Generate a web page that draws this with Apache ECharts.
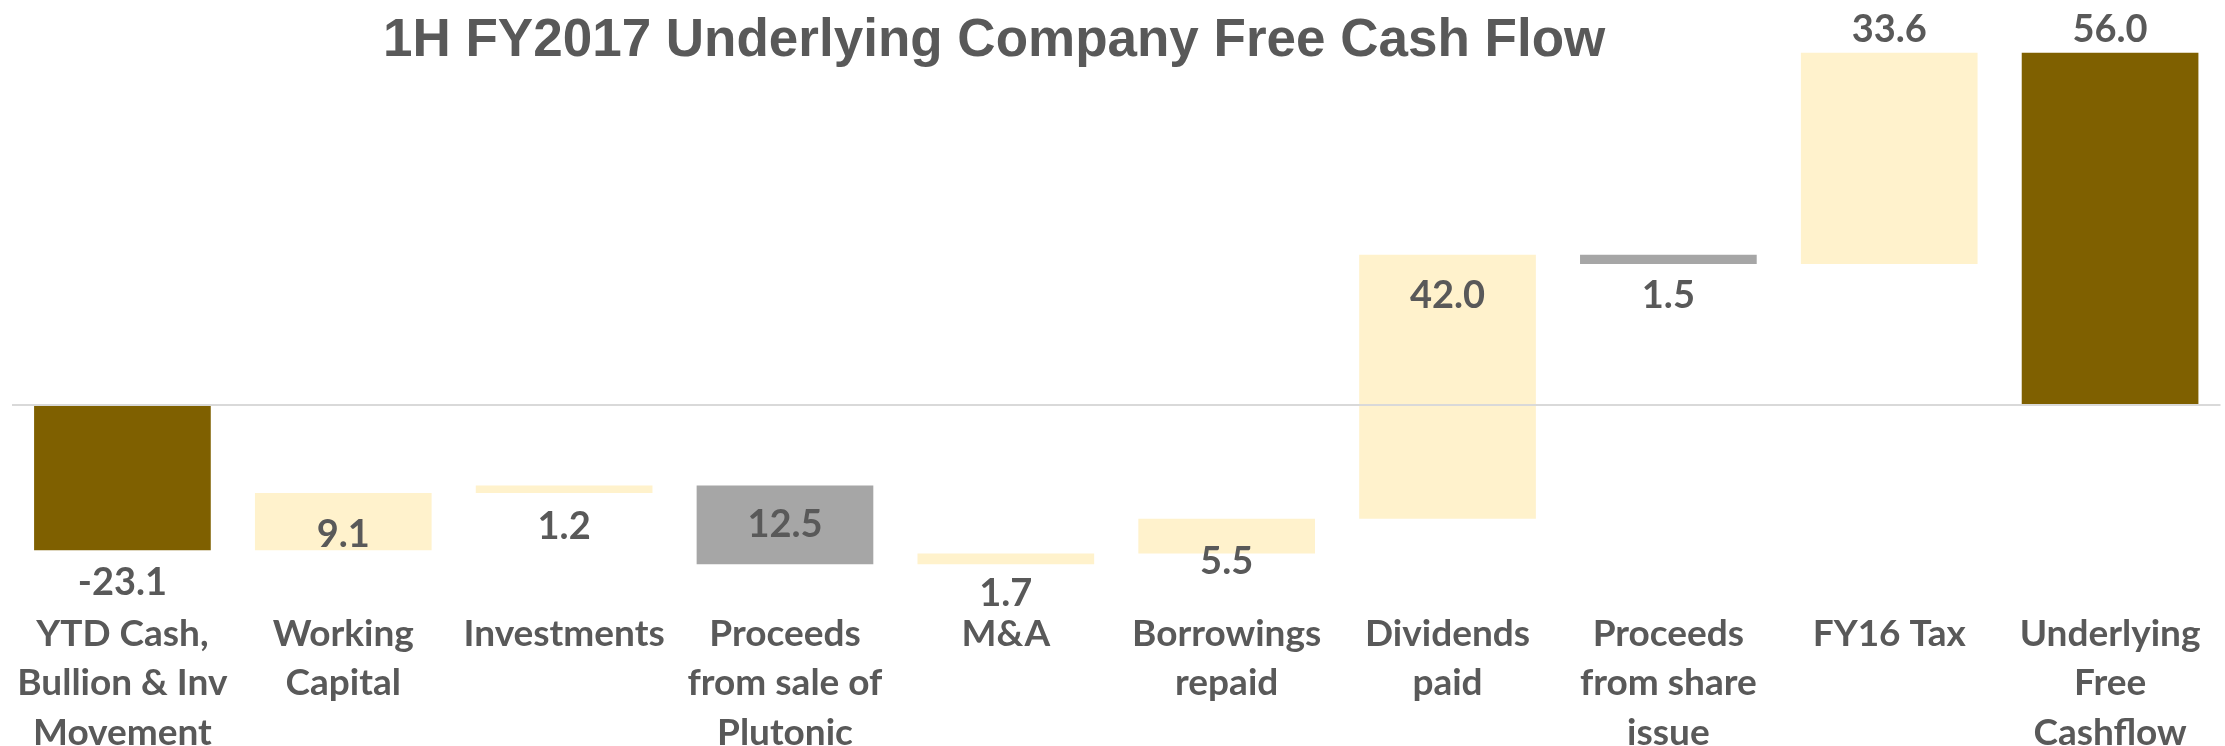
<!DOCTYPE html>
<html>
<head>
<meta charset="utf-8">
<script src="https://cdn.jsdelivr.net/npm/echarts@6/dist/echarts.min.js"></script>
<style>
html,body{margin:0;padding:0;background:#fff;}
#chart{width:2225px;height:746px;}
</style>
</head>
<body>
<div id="chart"></div>
<script>
// ---- data ----
const titleText = '1H FY2017 Underlying Company Free Cash Flow';
const categories = [
  'YTD Cash,\nBullion & Inv\nMovement',
  'Working\nCapital',
  'Investments',
  'Proceeds\nfrom sale of\nPlutonic',
  'M&A',
  'Borrowings\nrepaid',
  'Dividends\npaid',
  'Proceeds\nfrom share\nissue',
  'FY16 Tax',
  'Underlying\nFree\nCashflow'
];
// signed movements as drawn (first = opening, last = total from zero)
const steps = [-23.1, 9.1, 1.2, -12.5, 1.7, 5.5, 42.0, -1.5, 33.6];
const totalValue = 56.0;
const valueLabels = ['-23.1', '9.1', '1.2', '12.5', '1.7', '5.5', '42.0', '1.5', '33.6', '56.0'];
const barKinds = ['total', 'move', 'move', 'grey', 'move', 'move', 'move', 'grey', 'move', 'total'];

// ---- styles ----
const kindColor = { total: '#7F6000', move: '#FFF2CC', grey: '#A6A6A6' };
const textColor = '#595959';
const labelPlace = [
  ['bottom', 13.5], ['insideBottom', -2.5], ['bottom', 15.5], ['inside', 0], ['bottom', 11.5],
  ['bottom', -10.5], ['insideTop', 22.5], ['bottom', 13.5], ['top', 5], ['top', 5]
];

// build [index, low, high]
const barData = [];
let running = 0;
steps.forEach((s, i) => {
  const start = running;
  running = Math.round((running + s) * 10) / 10;
  barData.push([i, Math.min(start, running), Math.max(start, running)]);
});
barData.push([steps.length, Math.min(0, totalValue), Math.max(0, totalValue)]);

const chart = echarts.init(document.getElementById('chart'));
chart.setOption({
  backgroundColor: '#ffffff',
  animation: false,
  title: {
    text: titleText,
    left: 383,
    top: 14.5,
    padding: 0,
    textStyle: {
      fontFamily: 'Liberation Sans',
      fontWeight: 'bold',
      fontSize: 53,
      lineHeight: 53,
      color: textColor
    }
  },
  grid: { left: 12, right: 4.5, top: 27.6, bottom: 152.3, containLabel: false, outerBoundsMode: 'none' },
  xAxis: {
    type: 'category',
    data: categories,
    axisLine: { show: false },
    axisTick: { show: false },
    splitLine: { show: false },
    axisLabel: {
      interval: 0,
      margin: 15.5,
      fontFamily: 'Lato',
      fontWeight: 'bold',
      fontSize: 37,
      lineHeight: 49.5,
      color: textColor,
      align: 'center',
      hideOverlap: false
    }
  },
  yAxis: {
    type: 'value',
    min: -30,
    max: 60,
    show: false
  },
  series: [
    {
      type: 'line',
      data: [],
      silent: true,
      markLine: {
        silent: true,
        symbol: ['none', 'none'],
        label: { show: false },
        lineStyle: { color: '#D9D9D9', width: 2, type: 'solid' },
        data: [{ yAxis: 0 }]
      },
      z: 1
    },
    {
      type: 'custom',
      z: 2,
      data: barData,
      encode: { x: 0, y: [1, 2] },
      renderItem: function (params, api) {
        const i = api.value(0);
        const lo = api.value(1);
        const hi = api.value(2);
        const pTop = api.coord([i, hi]);
        const pBot = api.coord([i, lo]);
        const w = api.size([1, 0])[0] * 0.8;
        const place = labelPlace[i];
        return {
          type: 'rect',
          shape: { x: pTop[0] - w / 2, y: pTop[1], width: w, height: pBot[1] - pTop[1] },
          style: { fill: kindColor[barKinds[i]] },
          textContent: {
            style: {
              text: valueLabels[i],
              fontFamily: 'Lato',
              fontWeight: 'bold',
              fontSize: 38,
              lineHeight: 37,
              fill: textColor
            }
          },
          textConfig: { position: place[0], distance: place[1], inside: false }
        };
      }
    }
  ]
});
</script>
</body>
</html>
